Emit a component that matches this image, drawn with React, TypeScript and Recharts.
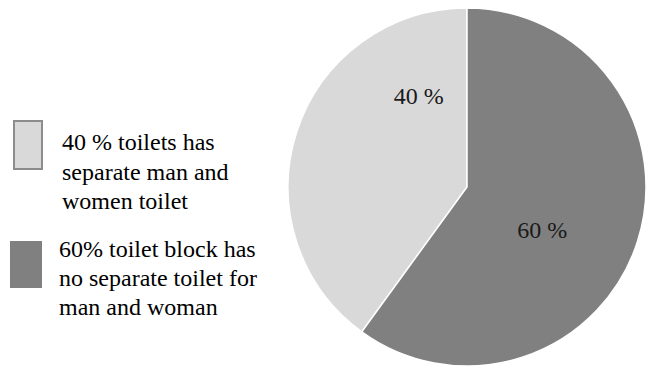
import { PieChart, Pie, Cell } from 'recharts';

const categories = [
  '40 % toilets has separate man and women toilet',
  '60% toilet block has no separate toilet for man and woman',
];
const shares = [40, 60];
const sliceLabels = ['40 %', '60 %'];
const legendLines = [
  ['40 % toilets has', 'separate man and', 'women toilet'],
  ['60% toilet block has', 'no separate toilet for', 'man and woman'],
];

const data = categories.map((name, i) => ({ name, value: shares[i] }));

const COLORS = ['#d9d9d9', '#808080'];
const FONT = 'Liberation Serif';

// label anchors as fractions of the radius, relative to the centre
const labelOffsets = [
  [-0.27, -0.51],
  [0.42, 0.24],
];

const renderLabel = (props: any) => {
  const { cx, cy, outerRadius, index } = props;
  const [fx, fy] = labelOffsets[index];
  return (
    <text
      x={cx + fx * outerRadius}
      y={cy + fy * outerRadius}
      textAnchor="middle"
      dominantBaseline="central"
      fontFamily={FONT}
      fontSize={24}
      fill="#1a1a1a"
    >
      {sliceLabels[index]}
    </text>
  );
};

const LegendBox = () => (
  <div style={{ position: 'absolute', left: 0, top: 0 }}>
    <div
      style={{
        position: 'absolute', left: 13, top: 120, width: 30, height: 50,
        boxSizing: 'border-box', background: COLORS[0], border: '2px solid #8c8c8c',
      }}
    />
    <div style={{ position: 'absolute', left: 62, top: 129, width: 220 }}>
      {legendLines[0].map((l) => (
        <div key={l} style={{ height: 29.5 }}>
          <div style={{ fontFamily: FONT, fontSize: 24 }}>{l}</div>
        </div>
      ))}
    </div>
    <div
      style={{
        position: 'absolute', left: 10, top: 241, width: 32, height: 47, background: COLORS[1],
      }}
    />
    <div style={{ position: 'absolute', left: 59, top: 236, width: 230 }}>
      {legendLines[1].map((l) => (
        <div key={l} style={{ height: 29 }}>
          <div style={{ fontFamily: FONT, fontSize: 24 }}>{l}</div>
        </div>
      ))}
    </div>
  </div>
);

export default function App() {
  return (
    <div style={{ position: 'absolute', left: 0, top: 0, width: 646, height: 369, background: '#fff' }}>
      <PieChart width={646} height={369} margin={{ top: 0, right: 0, bottom: 0, left: 0 }}>
        <Pie
          data={data}
          dataKey="value"
          nameKey="name"
          cx={467}
          cy={187}
          outerRadius={179}
          startAngle={90}
          endAngle={450}
          stroke="#ffffff"
          strokeWidth={1.5}
          label={renderLabel}
          labelLine={false}
          isAnimationActive={false}
        >
          {data.map((d, i) => (
            <Cell key={d.name} fill={COLORS[i]} />
          ))}
        </Pie>
      </PieChart>
      <LegendBox />
    </div>
  );
}
